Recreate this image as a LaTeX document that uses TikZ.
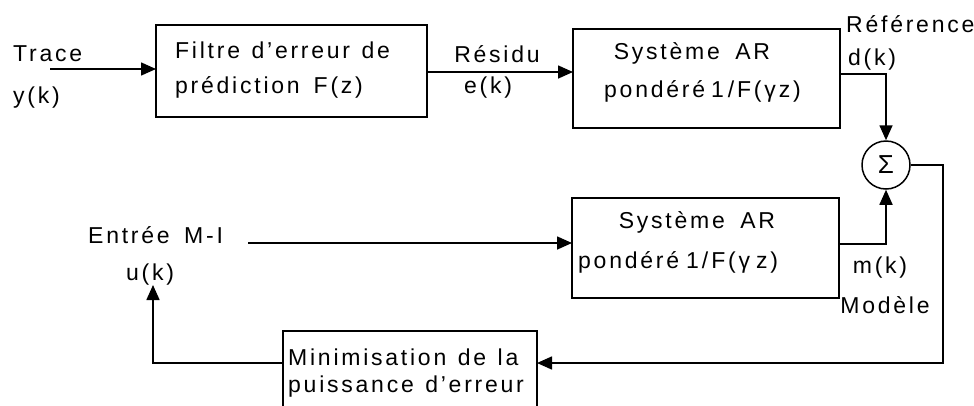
\documentclass[tikz,border=0pt]{standalone}
\usepackage{fontspec}
\setmainfont{Liberation Sans}[LetterSpace=12]
\usetikzlibrary{arrows.meta,calc}
\newcommand\lblfont{\fontsize{23}{27}\selectfont\spaceskip 11.5pt\relax}
\begin{document}
\begin{tikzpicture}[x=1pt,y=-1pt,
  box/.style={draw,line width=1.5pt,inner sep=0pt,outer sep=0pt},
  lbl/.style={inner sep=0pt,font=\lblfont},
  wire/.style={line width=1.6pt},
  arr/.style={wire,-{Triangle[length=15pt,width=13pt]}}]
\clip (0,0) rectangle (974,405);
% blocks
\node[box,minimum width=271pt,minimum height=92pt] (filt) at (291.5,71) {};
\node[box,minimum width=267pt,minimum height=99pt] (ar1) at (706.5,78.5) {};
\node[box,minimum width=267pt,minimum height=100pt] (ar2) at (705.5,248) {};
\node[box,minimum width=254pt,minimum height=99pt] (minb) at (410,380.5) {};
\node[draw,line width=1.5pt,circle,minimum size=48pt,inner sep=0pt,font=\fontsize{26}{28}\selectfont] (sum) at (886,165) {Σ};
% texts
\node[lbl,anchor=base west] (trace) at (13,61) {Trace};
\node[lbl,anchor=base west] (yk) at (13,103) {y(k)};
\node[lbl,anchor=base west] (f1) at (175,58) {Filtre d'erreur de};
\node[lbl,anchor=base west] (f2) at (175,93) {prédiction\hspace{14pt}F(z)};
\node[lbl,anchor=base] (res) at (497,62) {Résidu};
\node[lbl,anchor=base] (ek) at (488,93) {e(k)};
\node[lbl,anchor=base] (s1) at (692,59) {Système\hspace{4pt} AR};
\node[lbl,anchor=base west] (p1) at (604,97) {pondéré\hspace{6pt}1\hspace{4pt}/F(γ\hspace{3pt}z)};
\node[lbl,anchor=base west] (ref) at (846,32) {Référence};
\node[lbl,anchor=base] (dk) at (872,65) {d(k)};
\node[lbl,anchor=base] (s2) at (697,228) {Système\hspace{4pt} AR};
\node[lbl,anchor=base west] (p2) at (578,268) {pondéré\hspace{7pt}1\hspace{3pt}/\hspace{3pt}F(γ\hspace{6pt}z)};
\node[lbl,anchor=base] (mk) at (880,273) {m(k)};
\node[lbl,anchor=base] (mod) at (885,313) {Modèle};
\node[lbl,anchor=base west] (ent) at (88,243) {Entrée\hspace{3pt} M-I};
\node[lbl,anchor=base] (uk) at (150,280) {u(k)};
\node[lbl,anchor=base west] (m1) at (288,365) {Minimisation de la};
\node[lbl,anchor=base west] (m2) at (288,392) {puissance d'erreur};
% helper coordinates
\coordinate (tin) at (50,69);
\coordinate (rky) at (0,72);
\coordinate (dky) at (0,74);
\coordinate (mky) at (0,244);
\coordinate (ein) at (248,243);
\coordinate (fbc) at (943,363);
\coordinate (utip) at (153,285);
% connectors
\draw[arr] (tin) -- (tin -| filt.west);
\draw[arr] (filt.east |- rky) -- (ar1.west |- rky);
\draw[arr] (ar1.east |- dky) -| (sum.north);
\draw[arr] (ar2.east |- mky) -| (sum.south);
\draw[arr] (ein) -- (ein -| ar2.west);
\draw[arr] (sum.east) -| (fbc) -- (fbc -| minb.east);
\draw[arr] (fbc -| minb.west) -| (utip);
\end{tikzpicture}
\end{document}
